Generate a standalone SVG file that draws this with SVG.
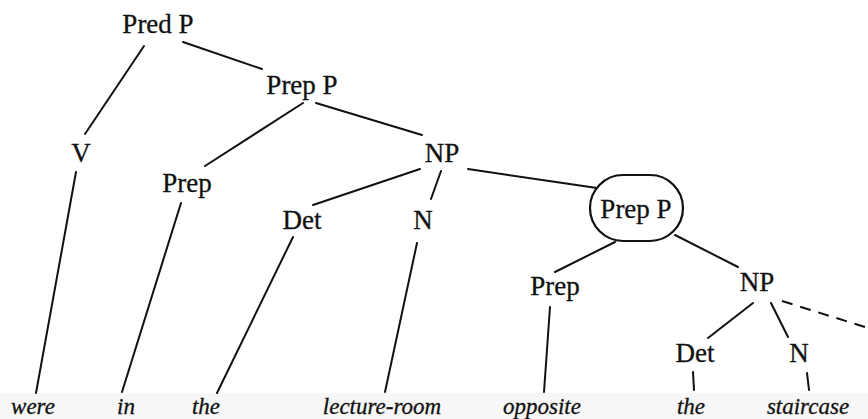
<svg xmlns="http://www.w3.org/2000/svg" width="868" height="419" viewBox="0 0 868 419">
<style>
.lbl{font-family:"Liberation Serif","Times New Roman",serif;font-size:27px;fill:#111;stroke:#111;stroke-width:0.3;text-anchor:middle}
.word{font-family:"Liberation Serif","Times New Roman",serif;font-style:italic;font-size:23px;fill:#111;stroke:#111;stroke-width:0.3;text-anchor:middle}
.edge{stroke:#111;stroke-width:2;fill:none;stroke-linecap:round}
.dash{stroke-dasharray:11 8;stroke-linecap:butt}
</style>
<rect x="0" y="0" width="868" height="419" fill="#ffffff"/>
<rect x="0" y="393" width="868" height="26" fill="#f7f7f7"/>
<g id="connectors">
<line class="edge" x1="144" y1="46" x2="85" y2="134"/>
<line class="edge" x1="183" y1="42" x2="262" y2="69"/>
<line class="edge" x1="76" y1="172" x2="36" y2="393"/>
<line class="edge" x1="303" y1="103" x2="205" y2="166"/>
<line class="edge" x1="316" y1="103" x2="422" y2="135"/>
<line class="edge" x1="181" y1="203" x2="122" y2="392"/>
<line class="edge" x1="420" y1="169" x2="313" y2="205"/>
<line class="edge" x1="441" y1="171" x2="431" y2="199"/>
<line class="edge" x1="293" y1="237" x2="217" y2="393"/>
<line class="edge" x1="417" y1="243" x2="385" y2="392"/>
<line class="edge" x1="468" y1="169" x2="597" y2="188"/>
<line class="edge" x1="615" y1="242" x2="555" y2="272"/>
<line class="edge" x1="675" y1="235" x2="738" y2="267"/>
<line class="edge" x1="550" y1="307" x2="544" y2="392"/>
<line class="edge" x1="753" y1="303" x2="708" y2="338"/>
<line class="edge" x1="771" y1="303" x2="788" y2="337"/>
<line class="edge dash" x1="782" y1="301" x2="868" y2="328"/>
<line class="edge" x1="693" y1="372" x2="694" y2="390"/>
<line class="edge" x1="807" y1="373" x2="809" y2="390"/>
</g>
<g id="predP"><text class="lbl" x="158" y="33">Pred P</text></g>
<g id="prepP1"><text class="lbl" x="302" y="94">Prep P</text></g>
<g id="V"><text class="lbl" x="81" y="162">V</text></g>
<g id="prep1"><text class="lbl" x="187" y="192">Prep</text></g>
<g id="NP1"><text class="lbl" x="442" y="162">NP</text></g>
<g id="det1"><text class="lbl" x="302" y="229">Det</text></g>
<g id="N1"><text class="lbl" x="423" y="229">N</text></g>
<g id="prepP2">
<rect x="590" y="175" width="93" height="66" rx="33" ry="33" fill="none" stroke="#111" stroke-width="2.2"/>
<text class="lbl" x="636" y="218">Prep P</text>
</g>
<g id="prep2"><text class="lbl" x="555" y="295">Prep</text></g>
<g id="NP2"><text class="lbl" x="757" y="291">NP</text></g>
<g id="det2"><text class="lbl" x="695" y="362">Det</text></g>
<g id="N2"><text class="lbl" x="799" y="362">N</text></g>
<g id="w-were"><text class="word" x="33" y="414">were</text></g>
<g id="w-in"><text class="word" x="126" y="414">in</text></g>
<g id="w-the1"><text class="word" x="206" y="414">the</text></g>
<g id="w-lecture-room"><text class="word" x="382" y="414">lecture-room</text></g>
<g id="w-opposite"><text class="word" x="542" y="414">opposite</text></g>
<g id="w-the2"><text class="word" x="691" y="414">the</text></g>
<g id="w-staircase"><text class="word" x="808" y="414">staircase</text></g>
</svg>
